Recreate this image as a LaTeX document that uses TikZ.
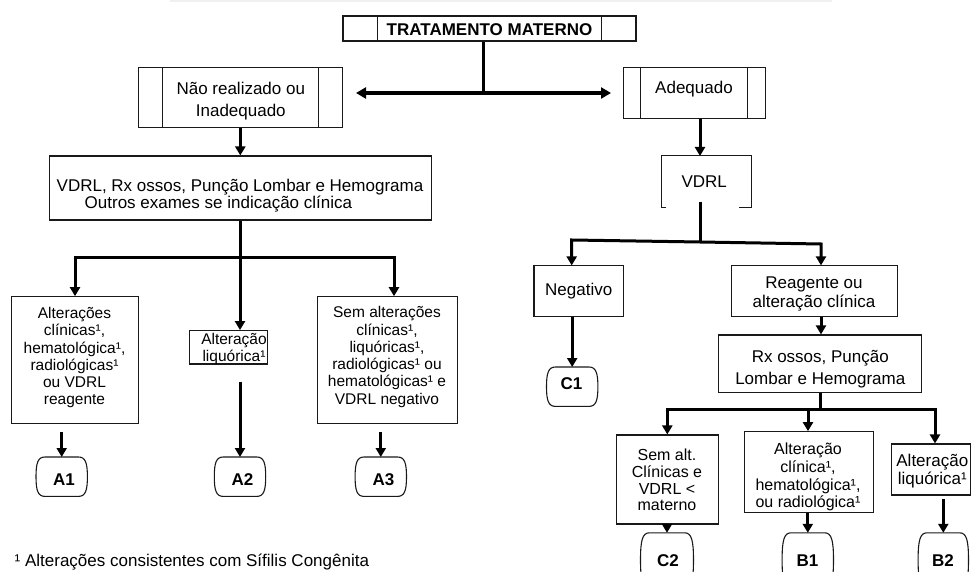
\documentclass[tikz,border=0pt]{standalone}
\usepackage{fontspec}
\setmainfont{Liberation Sans}
\usetikzlibrary{arrows.meta,calc}
\newcommand{\termdraw}[2]{%
  \draw[boxline] ($(#1.north west)+(9,0)$) -- ($(#1.north east)+(-9,0)$)
    .. controls ($(#1.north east)+(-2,0)$) and ($(#1.east)+(0,-#2)$) .. (#1.east)
    .. controls ($(#1.east)+(0,#2)$) and ($(#1.south east)+(-2,0)$) .. ($(#1.south east)+(-9,0)$)
    -- ($(#1.south west)+(9,0)$)
    .. controls ($(#1.south west)+(2,0)$) and ($(#1.west)+(0,#2)$) .. (#1.west)
    .. controls ($(#1.west)+(0,-#2)$) and ($(#1.north west)+(2,0)$) .. cycle;}
\begin{document}
\begin{tikzpicture}[x=1pt,y=-1pt,
  boxline/.style={draw=black!90, line width=1.1pt},
  box/.style={boxline, rectangle, inner sep=0pt},
  txt/.style={align=center, inner sep=0pt, font=\fontsize{17}{18}\selectfont},
  thk/.style={line width=3pt, draw=black, line join=miter},
  arr/.style={thk, -{Triangle[length=9pt,width=10pt]}},
  dblarr/.style={line width=3.2pt, {Triangle[length=10pt,width=11pt]}-{Triangle[length=10pt,width=11pt]}},
  term/.style={rectangle, inner sep=0pt, minimum width=51pt, minimum height=39pt},
  ttxt/.style={inner sep=0pt, font=\fontsize{17}{18}\selectfont\bfseries},
]
\useasboundingbox (0,0) rectangle (978,572);
\draw[gray!12, line width=1.5pt] (170,0.8) -- (832,0.8);

% top box
\node[box, minimum width=293pt, minimum height=25pt] (top) at (489.5,28.5) {};
\draw[boxline] ([xshift=35pt]top.north west) -- ([xshift=35pt]top.south west);
\draw[boxline] ([xshift=-35pt]top.north east) -- ([xshift=-35pt]top.south east);
\node[ttxt] (topT) at (489.5,29.5) {TRATAMENTO MATERNO};

% nao realizado
\node[box, minimum width=204pt, minimum height=59.6pt] (nao) at (240.3,97.5) {};
\draw[boxline] ([xshift=25pt]nao.north west) -- ([xshift=25pt]nao.south west);
\draw[boxline] ([xshift=-24pt]nao.north east) -- ([xshift=-24pt]nao.south east);
\node[txt, font=\fontsize{17}{22}\selectfont] (naoT) at (240.8,101.5) {Não realizado ou\\Inadequado};

% adequado
\node[box, minimum width=141.7pt, minimum height=51pt] (ade) at (694.2,92.8) {};
\draw[boxline] ([xshift=17.4pt]ade.north west) -- ([xshift=17.4pt]ade.south west);
\draw[boxline] ([xshift=-17.7pt]ade.north east) -- ([xshift=-17.7pt]ade.south east);
\node[txt] (adeT) at (694,89.6) {Adequado};

% double arrow
\coordinate (hl) at (356,93);
\coordinate (hr) at (611,93);
\coordinate (hm) at (483.3,93);
\draw[thk] (top.south -| hm) -- (hm);
\draw[dblarr] (hl) -- (hr);

% exams
\node[box, minimum width=381.7pt, minimum height=64pt] (exams) at (240.2,188) {};
\node[txt, anchor=west, align=left, font=\fontsize{17}{16.6}\selectfont] (examsT) at (56.5,195.6) {VDRL, Rx ossos, Punção Lombar e Hemograma\\\hspace*{28pt}Outros exames se indicação clínica};
\draw[arr] (nao.south) -- (nao.south |- exams.north);

% left result boxes
\node[box, minimum width=127.3pt, minimum height=126.6pt] (a1box) at (74.7,360) {};
\node[txt, font=\fontsize{15.5}{17.2}\selectfont] (a1T) at (74.5,357.6) {Alterações\\clínicas¹,\\hematológica¹,\\radiológicas¹\\ou VDRL\\reagente};
\node[box, minimum width=78pt, minimum height=33.3pt] (a2box) at (228.3,347.3) {};
\node[txt, font=\fontsize{15.5}{16.7}\selectfont] (a2T) at (234,349) {Alteração\\liquórica¹};
\node[box, minimum width=140pt, minimum height=126.3pt] (a3box) at (387.3,359.9) {};
\node[txt, font=\fontsize{15.5}{17.3}\selectfont] (a3T) at (387,357) {Sem alterações\\clínicas¹,\\liquóricas¹,\\radiológicas¹ ou\\hematológicas¹ e\\VDRL negativo};

\coordinate (lj) at (240,257.5);
\coordinate (lL) at (75,257.5);
\coordinate (lR) at (394,257.5);
\draw[thk] (exams.south -| lj) -- (lj);
\draw[arr] (lj) -- (lL) -- (lL |- a1box.north);
\draw[arr] (lj) -- (lR) -- (lR |- a3box.north);
\draw[arr] (lj) -- (lj |- a2box.north);

% A terminals
\node[term] (A1) at (61.7,476.7) {}; \termdraw{A1}{14}
\node[ttxt] (A1T) at (64,480) {A1};
\node[term] (A2) at (240,476.7) {}; \termdraw{A2}{14}
\node[ttxt] (A2T) at (242.5,480) {A2};
\node[term] (A3) at (380.8,476.7) {}; \termdraw{A3}{14}
\node[ttxt] (A3T) at (383.5,480) {A3};
\draw[arr, shorten <=8.4pt] (A1.north |- a1box.south) -- (A1.north);
\draw[arr, shorten <=17pt] (A2.north |- a2box.south) -- (A2.north);
\draw[arr, shorten <=8.4pt] (A3.north |- a3box.south) -- (A3.north);

% footnote
\node[txt, anchor=base west] (fn) at (14.5,566) {¹ Alterações consistentes com Sífilis Congênita};

% right side
\coordinate (vx) at (700,156);
\draw[arr] (ade.south -| vx) -- (vx);
\node[rectangle, inner sep=0pt, minimum width=89.3pt, minimum height=51.7pt] (vdrl) at (706.3,181.8) {};
\draw[boxline] ([xshift=5pt]vdrl.south west) -- (vdrl.south west) -- (vdrl.north west) -- (vdrl.north east) -- (vdrl.south east) -- ([xshift=-12pt]vdrl.south east);
\node[txt] (vdrlT) at (704.2,182) {VDRL};

\node[box, minimum width=89.7pt, minimum height=50.7pt] (neg) at (578.8,291.3) {};
\node[txt] (negT) at (578.7,291.5) {Negativo};
\node[box, minimum width=166.3pt, minimum height=50.7pt] (reag) at (814.2,291.3) {};
\node[txt, font=\fontsize{17}{19}\selectfont] (reagT) at (814,293.7) {Reagente ou\\alteração clínica};

\coordinate (vs) at (700,201.7);
\coordinate (rj) at (700,242);
\coordinate (rL) at (571.7,240);
\coordinate (rR) at (821,244);
\draw[thk] (vs) -- (rj);
\draw[arr] (rj) -- (rL) -- (rL |- neg.north);
\draw[arr] (rj) -- (rR) -- (rR |- reag.north);

\node[term] (C1) at (572.2,386.7) {}; \termdraw{C1}{14}
\node[ttxt] (C1T) at (571.5,384) {C1};
\draw[arr] (C1.north |- neg.south) -- (C1.north);

\node[box, minimum width=203.4pt, minimum height=57.7pt] (rx) at (820,363.8) {};
\node[txt, font=\fontsize{17}{21.7}\selectfont] (rxT) at (820.3,369.5) {Rx ossos, Punção\\Lombar e Hemograma};
\draw[arr] (rR |- reag.south) -- (rR |- rx.north);

% bottom right boxes
\node[box, minimum width=102.3pt, minimum height=89pt] (c2box) at (667.2,479.5) {};
\node[txt, font=\fontsize{16}{16.7}\selectfont] (c2T) at (667,480) {Sem alt.\\Clínicas e\\VDRL <\\materno};
\begin{scope}
\clip (744,431.7) rectangle (873.3,512.7);
\node[txt, font=\fontsize{16}{17.8}\selectfont] (b1T) at (808,477) {Alteração\\clínica¹,\\hematológica¹,\\ou radiológica¹};
\end{scope}
\node[box, minimum width=129.3pt, minimum height=81pt] (b1box) at (808.7,472.2) {};
\node[box, minimum width=79pt, minimum height=51pt] (b2box) at (931.2,469.5) {};
\node[txt, font=\fontsize{17}{18.3}\selectfont] (b2T) at (932.3,471) {Alteração\\liquórica¹};

\coordinate (bj) at (820.7,409.3);
\coordinate (bL) at (667.3,409.3);
\coordinate (bM) at (808,409.3);
\coordinate (bR) at (935,409.3);
\draw[thk] (rx.south -| bj) -- (bj);
\draw[arr] (bj) -- (bL) -- (bL |- c2box.north);
\draw[arr] (bj) -- (bR) -- (bR |- b2box.north);
\draw[arr] (bM) -- (bM |- b1box.north);

% bottom terminals
\node[term, minimum width=52.6pt, minimum height=54pt] (C2) at (667,560) {}; \termdraw{C2}{20}
\node[ttxt] (C2T) at (668,561) {C2};
\node[term, minimum width=51pt, minimum height=54pt] (B1) at (807.8,560) {}; \termdraw{B1}{20}
\node[ttxt] (B1T) at (807.5,561) {B1};
\node[term, minimum width=50pt, minimum height=54pt] (B2) at (943.3,560) {}; \termdraw{B2}{20}
\node[ttxt] (B2T) at (943,561) {B2};
\draw[arr] (C2.north |- c2box.south) -- (C2.north);
\draw[arr] (B1.north |- b1box.south) -- (B1.north);
\draw[arr, shorten <=3pt] (B2.north |- b2box.south) -- (B2.north);
\end{tikzpicture}
\end{document}
